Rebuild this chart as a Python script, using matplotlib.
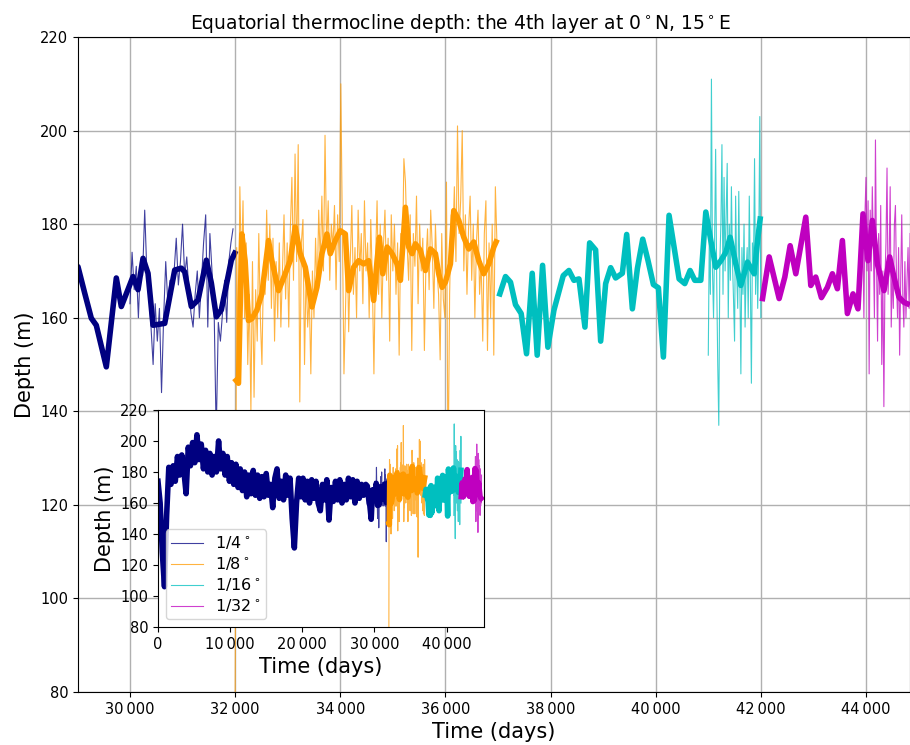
import numpy as np
import matplotlib.pyplot as plt
from matplotlib.ticker import FuncFormatter, MultipleLocator

# 1/4 deg run, coarse part (only seen in the inset)
navy_t_early = np.arange(0, 28801, 300)
navy_y_early = [174, 160, 128, 106, 152, 183, 172, 184, 174, 190,
                178, 191, 180, 166, 196, 184, 199, 186, 204, 188,
                198, 182, 194, 180, 192, 178, 190, 180, 200, 182,
                192, 178, 190, 174, 186, 172, 185, 170, 182, 168,
                180, 164, 178, 166, 181, 165, 178, 163, 177, 164,
                179, 165, 172, 157, 176, 182, 163, 174, 162, 178,
                165, 176, 150, 131, 160, 176, 164, 176, 162, 174,
                160, 175, 163, 174, 160, 155, 172, 162, 175, 149,
                170, 161, 174, 162, 175, 160, 172, 162, 176, 164,
                175, 160, 174, 163, 172, 165, 172]
# 1/4 deg run, smoothed, last years
navy_t_late = [29011, 29138, 29264, 29359, 29550, 29740, 29835, 30058, 30153, 30248,
               30343, 30438, 30661, 30851, 30977, 31041, 31167, 31295, 31453, 31548,
               31643, 31738, 31928, 31993]
navy_y_late = [170.9, 165.3, 159.9, 158.4, 149.5, 168.5, 162.4, 168.8, 166.0, 172.7,
               169.5, 158.4, 158.8, 170.2, 170.6, 169.8, 162.4, 163.8, 172.3, 167.4,
               160.2, 161.7, 172.3, 173.8]
# 1/4 deg run, raw output
navy_raw_t = np.arange(30000, 31961, 40)
navy_raw_y = [163, 174, 166, 171, 160, 172, 169, 183, 170, 165,
              158, 150, 163, 155, 162, 144, 160, 172, 163, 168,
              165, 170, 177, 167, 172, 180, 169, 173, 166, 161,
              158, 165, 170, 160, 168, 176, 182, 158, 178, 170,
              162, 135, 159, 155, 161, 168, 159, 172, 176, 179]

# 1/8 deg run
orange_t = [32019, 32064, 32127, 32190, 32254, 32318, 32413, 32508, 32572, 32635,
            32699, 32826, 32953, 33048, 33143, 33238, 33334, 33461, 33556, 33651,
            33746, 33810, 33905, 34000, 34096, 34159, 34254, 34350, 34445, 34540,
            34635, 34700, 34744, 34808, 34890, 34985, 35080, 35144, 35239, 35302,
            35366, 35429, 35524, 35619, 35715, 35810, 35873, 35937, 36000, 36095,
            36159, 36254, 36349, 36444, 36539, 36634, 36729, 36825, 36920, 36964]
orange_y = [146.6, 146.0, 177.9, 172.2, 159.4, 159.8, 161.6, 165.1, 170.8, 176.5,
            172.2, 165.8, 169.4, 172.2, 179.4, 173.7, 170.8, 162.3, 166.5, 173.7,
            177.9, 173.7, 176.5, 178.6, 177.9, 165.8, 170.8, 172.2, 171.5, 172.2,
            163.7, 172.2, 177.2, 169.4, 175.1, 173.7, 171.5, 168.0, 183.6, 175.1,
            173.7, 175.8, 174.4, 170.1, 174.7, 173.7, 169.4, 166.5, 167.6, 171.5,
            182.9, 180.8, 177.2, 174.7, 176.2, 172.2, 169.4, 171.5, 175.1, 176.2]
orange_raw_t = np.arange(32000, 36981, 30)
orange_raw_y = [78, 175, 150, 188, 170, 185, 160, 176, 150, 165,
                140, 172, 143, 166, 155, 178, 160, 150, 171, 165,
                183, 168, 180, 162, 177, 155, 172, 160, 176, 158,
                170, 182, 164, 176, 158, 179, 190, 168, 195, 172,
                197, 142, 176, 181, 150, 170, 158, 165, 148, 170,
                160, 177, 165, 183, 172, 186, 170, 199, 175, 185,
                168, 180, 175, 184, 166, 182, 172, 210, 178, 148,
                162, 178, 157, 172, 184, 165, 175, 160, 183, 170,
                178, 163, 185, 170, 176, 160, 181, 168, 148, 172,
                185, 165, 180, 160, 175, 183, 168, 177, 155, 182,
                170, 180, 165, 176, 152, 178, 170, 194, 189, 176,
                168, 182, 153, 178, 171, 186, 163, 180, 170, 177,
                153, 172, 179, 166, 183, 175, 162, 180, 170, 165,
                151, 178, 164, 160, 189, 125, 165, 182, 176, 188,
                172, 201, 178, 185, 200, 170, 182, 165, 179, 186,
                168, 180, 160, 176, 183, 165, 172, 155, 178, 185,
                153, 176, 160, 180, 152, 188, 176]

# 1/16 deg run
cyan_t = [37035, 37143, 37238, 37333, 37441, 37543, 37651, 37746, 37848, 37949,
          38064, 38241, 38349, 38445, 38540, 38654, 38743, 38857, 38953, 39048,
          39143, 39238, 39365, 39448, 39556, 39651, 39753, 39854, 39956, 40051,
          40146, 40254, 40445, 40553, 40654, 40743, 40858, 40953, 41048, 41143,
          41239, 41334, 41416, 41524, 41619, 41746, 41873, 41937, 41987]
cyan_y = [165.1, 168.8, 167.6, 162.8, 160.9, 152.3, 169.5, 152.0, 171.2, 153.7,
          161.6, 169.0, 170.1, 168.0, 168.3, 158.0, 176.0, 174.5, 155.0, 167.3,
          170.7, 168.5, 169.5, 177.8, 161.9, 170.5, 176.8, 172.2, 167.1, 166.4,
          151.6, 181.9, 168.3, 167.3, 170.1, 168.0, 168.0, 182.6, 176.5, 170.8,
          172.2, 174.0, 177.2, 171.5, 166.9, 171.9, 169.4, 176.5, 181.1]
cyan_raw_t = np.arange(41000, 42001, 20)
cyan_raw_y = [152, 178, 165, 211, 170, 160, 176, 196, 168, 150,
              137, 172, 180, 197, 165, 190, 170, 182, 193, 160,
              180, 168, 188, 172, 164, 155, 186, 170, 162, 187,
              168, 148, 175, 165, 180, 158, 170, 175, 160, 186,
              168, 146, 176, 170, 194, 165, 178, 162, 175, 203,
              160]

# 1/32 deg run
mag_t = [42032, 42158, 42348, 42456, 42557, 42665, 42855, 42950, 43044, 43152,
         43266, 43361, 43456, 43551, 43646, 43753, 43848, 43943, 44038, 44121,
         44216, 44342, 44450, 44532, 44627, 44722, 44785]
mag_y = [164.1, 173.0, 164.1, 168.7, 175.4, 169.4, 181.5, 166.9, 168.7, 164.3,
         166.5, 169.4, 166.2, 176.5, 160.9, 165.1, 161.9, 182.2, 172.2, 180.8,
         171.5, 165.8, 173.0, 168.7, 164.4, 163.3, 163.0]
mag_raw_t = np.arange(43940, 44841, 20)
mag_raw_y = [176, 160, 182, 190, 170, 185, 148, 183, 170, 188,
             175, 160, 198, 172, 155, 178, 165, 184, 150, 170,
             141, 168, 176, 192, 165, 172, 188, 158, 170, 162,
             180, 184, 168, 160, 175, 152, 168, 182, 165, 158,
             172, 160, 168, 175, 162, 178]

labels = ['1/4$^\\circ$', '1/8$^\\circ$', '1/16$^\\circ$', '1/32$^\\circ$']
colors = ['navy', '#ff9a00', 'c', 'm']

navy_t = np.concatenate([navy_t_early, navy_t_late])
navy_y = np.concatenate([navy_y_early, navy_y_late])

raw = [(navy_raw_t, navy_raw_y), (orange_raw_t, orange_raw_y),
       (cyan_raw_t, cyan_raw_y), (mag_raw_t, mag_raw_y)]
smooth = [(navy_t, navy_y), (orange_t, orange_y), (cyan_t, cyan_y), (mag_t, mag_y)]

thin = FuncFormatter(lambda v, p: '{:,.0f}'.format(v).replace(',', '\u2009'))


def draw(ax):
    for (rt, ry), (st, sy), c, lab in zip(raw, smooth, colors, labels):
        ax.plot(rt, ry, color=c, lw=0.8, alpha=0.75, label=lab)
        ax.plot(st, sy, color=c, lw=4)


fig = plt.figure(figsize=(9.1, 7.45), dpi=100)
ax = fig.add_axes([0.0857, 0.0711, 0.9143, 0.8792])
draw(ax)
ax.set_xlim(29011, 44837)
ax.set_ylim(80, 220)
ax.xaxis.set_major_locator(MultipleLocator(2000))
ax.yaxis.set_major_locator(MultipleLocator(20))
ax.xaxis.set_major_formatter(thin)
ax.grid(True, color='#b0b0b0', lw=1)
ax.tick_params(labelsize=10.5)
ax.set_xlabel('Time (days)', fontsize=15)
ax.set_ylabel('Depth (m)', fontsize=15)
ax.set_title('Equatorial thermocline depth: the 4th layer at 0$^\\circ$N, 15$^\\circ$E',
             fontsize=13.5, x=0.46)

ins = fig.add_axes([0.1736, 0.1584, 0.358, 0.2913])
draw(ins)
ins.set_xlim(0, 45150)
ins.set_ylim(80, 220)
ins.xaxis.set_major_locator(MultipleLocator(10000))
ins.yaxis.set_major_locator(MultipleLocator(20))
ins.xaxis.set_major_formatter(thin)
ins.tick_params(labelsize=10.5)
ins.set_xlabel('Time (days)', fontsize=15)
ins.set_ylabel('Depth (m)', fontsize=15)
ins.legend(loc='lower left', fontsize=11.5, labelspacing=0.25, borderpad=0.3)

fig.savefig('out.png', dpi=100)
